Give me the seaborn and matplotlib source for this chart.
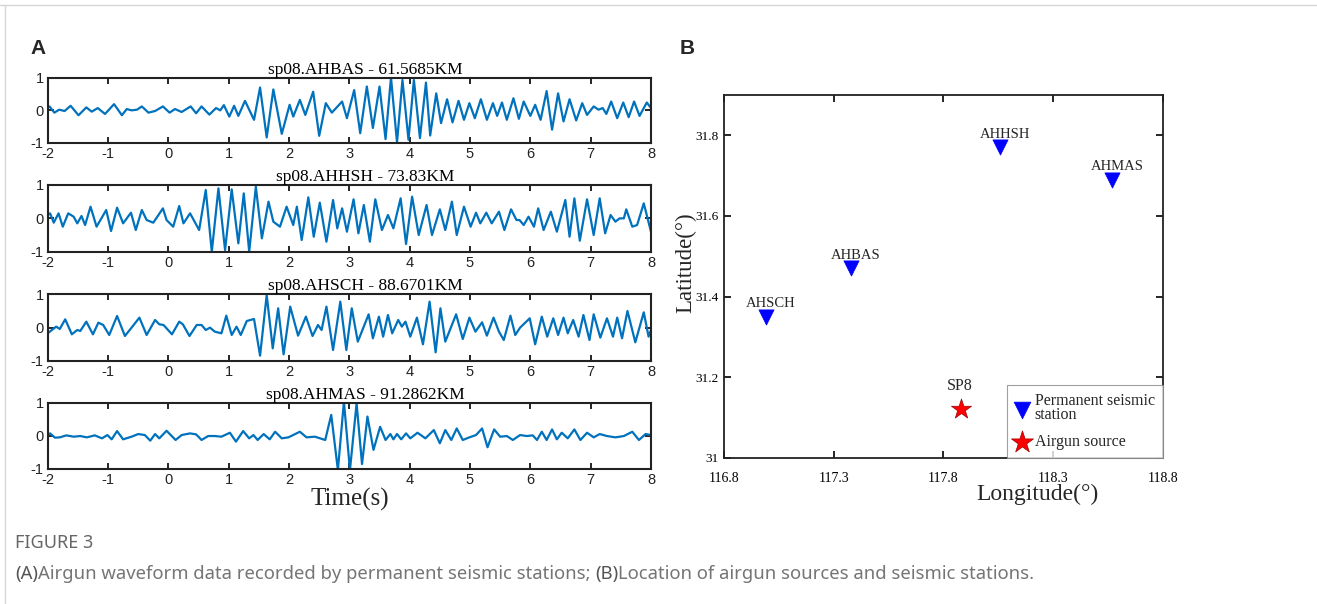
import numpy as np
import pandas as pd
import matplotlib
matplotlib.use("Agg")
import matplotlib.pyplot as plt
import seaborn as sns
from matplotlib.lines import Line2D

# waveform peaks/troughs: (time in s, normalised amplitude)
bas_wave = [(-2.00, 0.07), (-1.97, 0.12), (-1.89, -0.07), (-1.81, 0.02), (-1.72, -0.02), (-1.62, 0.14),
            (-1.49, -0.15), (-1.36, 0.09), (-1.27, -0.04), (-1.17, 0.07), (-1.05, -0.11), (-0.90, 0.19),
            (-0.77, -0.15), (-0.69, 0.04), (-0.61, 0.00), (-0.52, 0.02), (-0.44, 0.12), (-0.33, -0.07),
            (-0.22, -0.02), (-0.09, 0.12), (0.02, -0.07), (0.11, 0.04), (0.22, -0.05), (0.37, 0.12),
            (0.46, -0.09), (0.55, 0.12), (0.68, -0.13), (0.79, 0.07), (0.86, 0.00), (0.92, 0.16),
            (1.01, -0.19), (1.09, 0.14), (1.16, -0.17), (1.27, 0.29), (1.42, -0.29), (1.52, 0.70),
            (1.63, -0.83), (1.74, 0.64), (1.88, -0.72), (2.01, 0.17), (2.07, -0.19), (2.18, 0.32),
            (2.27, -0.14), (2.40, 0.57), (2.50, -0.78), (2.61, 0.22), (2.71, -0.07), (2.88, 0.27),
            (2.96, -0.24), (3.08, 0.62), (3.18, -0.70), (3.29, 0.73), (3.39, -0.54), (3.50, 0.73),
            (3.60, -0.88), (3.69, 1.01), (3.79, -0.98), (3.88, 0.93), (3.98, -0.90), (4.07, 0.93),
            (4.17, -0.85), (4.27, 0.85), (4.34, -0.77), (4.44, 0.52), (4.52, -0.39), (4.62, 0.34),
            (4.71, -0.37), (4.81, 0.29), (4.90, -0.29), (4.99, 0.22), (5.08, -0.24), (5.18, 0.34),
            (5.28, -0.29), (5.38, 0.22), (5.45, -0.17), (5.53, 0.24), (5.61, -0.29), (5.72, 0.37),
            (5.81, -0.26), (5.89, 0.27), (6.00, -0.17), (6.08, 0.17), (6.17, -0.29), (6.27, 0.59),
            (6.36, -0.59), (6.46, 0.52), (6.55, -0.34), (6.65, 0.34), (6.76, -0.31), (6.86, 0.22),
            (6.94, -0.14), (7.05, 0.12), (7.13, 0.02), (7.20, 0.07), (7.26, -0.11), (7.34, 0.27),
            (7.44, -0.24), (7.54, 0.24), (7.63, -0.21), (7.72, 0.27), (7.81, -0.17), (7.93, 0.24),
            (8.00, 0.07)]

hsh_wave = [(-2.00, 0.10), (-1.96, 0.15), (-1.90, -0.13), (-1.82, 0.15), (-1.75, -0.25), (-1.66, 0.15),
            (-1.57, 0.05), (-1.51, -0.15), (-1.44, 0.07), (-1.38, -0.20), (-1.29, 0.35), (-1.19, -0.25),
            (-1.03, 0.25), (-0.95, -0.38), (-0.85, 0.32), (-0.75, -0.15), (-0.62, 0.17), (-0.54, -0.35),
            (-0.44, 0.25), (-0.36, -0.05), (-0.25, -0.13), (-0.09, 0.30), (-0.03, -0.05), (0.08, -0.25),
            (0.18, 0.37), (0.25, -0.15), (0.36, 0.15), (0.51, -0.35), (0.62, 0.85), (0.72, -1.00),
            (0.83, 0.90), (0.94, -0.95), (1.05, 0.87), (1.16, -0.75), (1.25, 0.75), (1.34, -1.00),
            (1.45, 0.95), (1.55, -0.60), (1.66, 0.50), (1.74, -0.10), (1.85, -0.25), (1.96, 0.35),
            (2.07, -0.20), (2.13, 0.35), (2.21, -0.65), (2.32, 0.63), (2.41, -0.55), (2.51, 0.47),
            (2.62, -0.70), (2.73, 0.55), (2.80, -0.30), (2.88, 0.30), (2.96, -0.40), (3.07, 0.57),
            (3.15, -0.45), (3.24, 0.40), (3.34, -0.70), (3.43, 0.57), (3.54, -0.35), (3.64, 0.10),
            (3.73, -0.30), (3.85, 0.60), (3.94, -0.77), (4.04, 0.65), (4.15, -0.50), (4.28, 0.40),
            (4.37, -0.50), (4.50, 0.27), (4.59, -0.35), (4.70, 0.50), (4.78, -0.50), (4.90, 0.35),
            (5.01, -0.25), (5.10, 0.17), (5.17, -0.15), (5.27, 0.17), (5.36, -0.15), (5.48, 0.20),
            (5.57, -0.35), (5.68, 0.27), (5.77, -0.05), (5.82, -0.05), (5.89, -0.20), (5.97, 0.05),
            (6.06, -0.25), (6.13, 0.30), (6.22, -0.35), (6.34, 0.20), (6.44, -0.40), (6.58, 0.55),
            (6.65, -0.55), (6.73, 0.60), (6.82, -0.67), (6.94, 0.57), (7.05, -0.50), (7.15, 0.60),
            (7.24, -0.45), (7.33, 0.10), (7.41, -0.10), (7.48, 0.00), (7.55, 0.00), (7.59, 0.27),
            (7.69, -0.25), (7.77, -0.20), (7.88, 0.45), (8.00, -0.40)]

sch_wave = [(-2.00, -0.17), (-1.93, -0.07), (-1.86, 0.03), (-1.80, -0.04), (-1.71, 0.25), (-1.60, -0.20),
            (-1.51, -0.07), (-1.46, -0.10), (-1.36, 0.18), (-1.25, -0.20), (-1.16, 0.15), (-1.08, 0.08),
            (-0.98, -0.22), (-0.85, 0.35), (-0.72, -0.25), (-0.61, 0.00), (-0.48, 0.30), (-0.36, -0.22),
            (-0.22, 0.23), (-0.15, 0.10), (-0.08, 0.08), (0.06, -0.20), (0.18, 0.18), (0.24, 0.10),
            (0.35, -0.25), (0.47, 0.08), (0.55, 0.08), (0.62, -0.07), (0.69, 0.00), (0.77, -0.12),
            (0.88, -0.17), (0.96, 0.36), (1.05, -0.22), (1.13, 0.03), (1.20, -0.22), (1.30, 0.20),
            (1.42, 0.26), (1.52, -0.84), (1.63, 0.98), (1.73, -0.62), (1.82, 0.58), (1.91, -0.80),
            (2.02, 0.63), (2.15, -0.24), (2.28, 0.33), (2.39, -0.25), (2.48, 0.08), (2.54, -0.07),
            (2.62, 0.63), (2.73, -0.67), (2.85, 0.78), (2.95, -0.67), (3.04, 0.58), (3.14, -0.42),
            (3.32, 0.40), (3.39, -0.32), (3.49, 0.33), (3.56, -0.27), (3.64, 0.38), (3.71, -0.17),
            (3.81, 0.23), (3.87, 0.03), (3.93, 0.18), (4.01, -0.27), (4.12, 0.30), (4.22, -0.50),
            (4.33, 0.78), (4.43, -0.74), (4.51, 0.58), (4.59, -0.42), (4.77, 0.40), (4.88, -0.34),
            (4.99, 0.30), (5.09, -0.12), (5.20, 0.16), (5.28, -0.24), (5.39, 0.30), (5.48, -0.12),
            (5.56, -0.37), (5.67, 0.36), (5.75, -0.22), (5.83, 0.00), (5.99, 0.28), (6.08, -0.50),
            (6.19, 0.33), (6.28, -0.27), (6.38, 0.28), (6.46, -0.22), (6.55, 0.30), (6.62, -0.17),
            (6.71, 0.23), (6.80, -0.27), (6.88, 0.38), (6.98, -0.37), (7.05, 0.40), (7.16, -0.30),
            (7.27, 0.28), (7.37, -0.27), (7.44, 0.30), (7.52, -0.32), (7.61, 0.50), (7.74, -0.44),
            (7.88, 0.46), (7.96, -0.27), (8.00, -0.07)]

mas_wave = [(-2.00, 0.02), (-1.96, 0.07), (-1.88, -0.06), (-1.80, -0.05), (-1.69, 0.01), (-1.57, -0.03),
            (-1.46, -0.01), (-1.35, -0.05), (-1.22, 0.01), (-1.10, -0.08), (-1.01, 0.02), (-0.94, -0.11),
            (-0.85, 0.14), (-0.75, -0.11), (-0.61, -0.03), (-0.50, 0.05), (-0.39, 0.02), (-0.30, -0.15),
            (-0.22, 0.05), (-0.15, -0.08), (-0.03, 0.15), (0.12, -0.13), (0.22, 0.02), (0.36, 0.07),
            (0.46, 0.04), (0.55, -0.13), (0.66, -0.01), (0.77, -0.01), (0.88, -0.03), (1.02, 0.09),
            (1.12, -0.18), (1.24, 0.14), (1.34, -0.08), (1.41, 0.02), (1.48, -0.13), (1.58, 0.05),
            (1.68, -0.11), (1.77, 0.12), (1.88, -0.08), (1.99, -0.05), (2.18, 0.12), (2.29, -0.05),
            (2.43, -0.03), (2.60, -0.13), (2.70, 0.63), (2.81, -1.04), (2.91, 1.03), (3.01, -1.04),
            (3.12, 0.98), (3.21, -0.86), (3.30, 0.58), (3.40, -0.43), (3.51, 0.27), (3.60, -0.13),
            (3.68, 0.05), (3.73, -0.11), (3.79, 0.05), (3.86, -0.11), (3.94, 0.07), (4.01, -0.08),
            (4.13, 0.09), (4.26, -0.08), (4.40, 0.17), (4.50, -0.23), (4.59, 0.17), (4.69, -0.13),
            (4.78, 0.22), (4.88, -0.13), (4.99, -0.05), (5.10, 0.02), (5.20, 0.22), (5.29, -0.35),
            (5.40, 0.19), (5.50, -0.03), (5.61, -0.01), (5.71, -0.13), (5.83, 0.02), (5.94, -0.01),
            (6.04, 0.01), (6.11, -0.13), (6.19, 0.12), (6.27, -0.13), (6.36, 0.19), (6.44, -0.11),
            (6.52, 0.09), (6.62, -0.08), (6.73, 0.19), (6.83, -0.13), (6.94, 0.09), (7.05, -0.05),
            (7.15, 0.05), (7.27, -0.01), (7.41, -0.05), (7.55, -0.01), (7.69, 0.12), (7.80, -0.13),
            (7.91, 0.05), (8.00, 0.02)]

trace_titles = ["sp08.AHBAS - 61.5685KM", "sp08.AHHSH - 73.83KM",
                "sp08.AHSCH - 88.6701KM", "sp08.AHMAS - 91.2862KM"]
time_ticks = [-2, -1, 0, 1, 2, 3, 4, 5, 6, 7, 8]
amp_ticks = [-1, 0, 1]

# panel B
station_names = ["AHSCH", "AHBAS", "AHHSH", "AHMAS"]
station_lon = [116.99, 117.38, 118.06, 118.57]
station_lat = [31.35, 31.47, 31.77, 31.69]
source_names = ["SP8"]
source_lon = [117.88]
source_lat = [31.12]
lon_ticks = [116.8, 117.3, 117.8, 118.3, 118.8]
lat_ticks = [31, 31.2, 31.4, 31.6, 31.8]

W, H = 1317, 604
sns.set_theme(style="ticks")
plt.rcParams["font.family"] = ["Liberation Serif", "DejaVu Serif"]
plt.rcParams["axes.unicode_minus"] = False

fig = plt.figure(figsize=(W / 100, H / 100), dpi=100)
fig.patch.set_facecolor("white")


def px_axes(left, top, right, bottom):
    # axes box given in pixel coords of the page
    return fig.add_axes([left / W, 1 - bottom / H, (right - left) / W, (bottom - top) / H])


blue = "#0072BD"
panel_tops = [(77.7, 143.0), (185.0, 251.7), (294.3, 361.0), (402.7, 468.7)]
waves = [bas_wave, hsh_wave, sch_wave, mas_wave]

for (top, bottom), wave, title in zip(panel_tops, waves, trace_titles):
    ax = px_axes(47.7, top, 651.0, bottom)
    df = pd.DataFrame(wave, columns=["time", "amp"])
    sns.lineplot(data=df, x="time", y="amp", ax=ax, color=blue, linewidth=1.6,
                 estimator=None, sort=False)
    ax.set_xlim(-2, 8)
    ax.set_ylim(-1, 1)
    ax.set_xticks(time_ticks)
    ax.set_yticks(amp_ticks)
    ax.set_xlabel("")
    ax.set_ylabel("")
    ax.tick_params(direction="in", top=True, right=True, length=4, width=1.2,
                   labelsize=10.5, colors="black")
    ax.tick_params(axis="x", pad=3)
    ax.tick_params(axis="y", pad=3)
    for lab in ax.get_xticklabels() + ax.get_yticklabels():
        lab.set_family("Liberation Sans")
        lab.set_color("#222222")
    for sp in ax.spines.values():
        sp.set_color("#222222")
        sp.set_linewidth(1.5)
    ax.text(0.526, 1.0, title, transform=ax.transAxes, ha="center", va="bottom",
            fontsize=12.5, color="black")

fig.text(350 / W, 1 - 499 / H, "Time(s)", ha="center", va="center", fontsize=18)

# panel B map
axm = px_axes(724.0, 95.0, 1162.7, 457.7)
st = pd.DataFrame({"lon": station_lon, "lat": station_lat, "name": station_names})
src = pd.DataFrame({"lon": source_lon, "lat": source_lat, "name": source_names})
sns.scatterplot(data=st, x="lon", y="lat", ax=axm, marker="v", s=120, color="#0000FF",
                edgecolor="#0000FF", linewidth=0.5, label="Permanent seismic\nstation", zorder=3)
sns.scatterplot(data=src, x="lon", y="lat", ax=axm, marker="*", s=230, color="#FF0000",
                edgecolor="#990000", linewidth=0.5, label="Airgun source", zorder=3)
for _, r in st.iterrows():
    axm.annotate(r["name"], (r["lon"], r["lat"]), xytext=(5, 13), textcoords="offset pixels",
                 ha="center", va="center", fontsize=10.5)
for _, r in src.iterrows():
    axm.annotate(r["name"], (r["lon"], r["lat"]), xytext=(-1, 23), textcoords="offset pixels",
                 ha="center", va="center", fontsize=11.5)

axm.set_xlim(116.8, 118.8)
axm.set_ylim(31, 31.9)
axm.set_xticks(lon_ticks)
axm.set_xticklabels([f"{v:.1f}" for v in lon_ticks])
axm.set_yticks(lat_ticks)
axm.set_yticklabels(["31", "31.2", "31.4", "31.6", "31.8"])
axm.set_xlabel("")
axm.set_ylabel("")
axm.tick_params(direction="in", top=True, right=True, length=5, width=1.2,
                labelsize=10, colors="black")
axm.tick_params(axis="x", pad=10)
axm.tick_params(axis="y", pad=4, labelsize=9.5)
for sp in axm.spines.values():
    sp.set_color("#222222")
    sp.set_linewidth(1.3)

leg = axm.legend(loc="lower right", bbox_to_anchor=(1.0, 0.0), borderaxespad=0.0,
                 frameon=True, fancybox=False, edgecolor="#888888", fontsize=11.5,
                 handlelength=0.9, handletextpad=0.35, borderpad=0.5, labelspacing=0.65,
                 markerscale=1.1)
leg.get_frame().set_linewidth(0.8)
for t in leg.get_texts():
    t.set_linespacing(0.85)

fig.text(1037 / W, 1 - 494 / H, "Longitude(°)", ha="center", va="center", fontsize=17)
fig.text(686 / W, 1 - 263 / H, "Latitude(°)", ha="center", va="center", fontsize=16.5,
         rotation=90)

# panel letters
fig.text(30 / W, 1 - 48 / H, "A", ha="left", va="center", fontsize=15, fontweight="bold",
         family="Liberation Sans")
fig.text(680 / W, 1 - 48 / H, "B", ha="left", va="center", fontsize=15, fontweight="bold",
         family="Liberation Sans")

# page card border and caption
fig.add_artist(Line2D([0, 1], [1 - 5 / H, 1 - 5 / H], color="#d6d6d6", lw=1))
fig.add_artist(Line2D([5 / W, 5 / W], [0, 1 - 5 / H], color="#d6d6d6", lw=1))

cap = fig.add_axes([0, 0, 1, 1])
cap.axis("off")
cap.set_zorder(-1)
cap_font = ["Noto Sans", "DejaVu Sans"]
cap.text(15 / W, 1 - 548 / H, "FIGURE 3", fontsize=13, color="#666666", family=cap_font,
         va="baseline", ha="left")
pieces = [("(A)", "bold"), ("Airgun waveform data recorded by permanent seismic stations; ", "normal"),
          ("(B)", "bold"), ("Location of airgun sources and seismic stations.", "normal")]
prev = None
for txt, wt in pieces:
    col = "#555555" if wt == "bold" else "#757575"
    if prev is None:
        prev = cap.text(15 / W, 1 - 579 / H, txt, fontsize=13.3, color=col, family=cap_font,
                        fontweight=wt, va="baseline", ha="left")
    else:
        prev = cap.annotate(txt, xy=(1, 0), xycoords=prev, va="bottom", ha="left",
                            fontsize=13.3, color=col, family=cap_font, fontweight=wt)

fig.savefig("out.png", dpi=100, facecolor="white")
